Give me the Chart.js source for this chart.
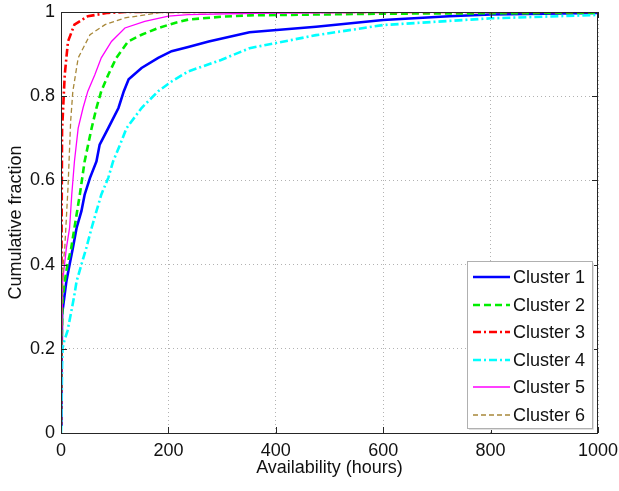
<!DOCTYPE html>
<html>
<head>
<meta charset="utf-8">
<script src="https://cdn.jsdelivr.net/npm/chart.js@4.4.1/dist/chart.umd.min.js"></script>
<style>
    html, body { margin: 0; padding: 0; background: #ffffff; }
    canvas { display: block; }
</style>
</head>
<body>
<canvas id="cdfChart" width="619" height="491"></canvas>
<script>
// Availability CDF per cluster

const xTicks = [0, 200, 400, 600, 800, 1000];
const yTicks = [0, 0.2, 0.4, 0.6, 0.8, 1];

const names = ['Cluster 1', 'Cluster 2', 'Cluster 3', 'Cluster 4', 'Cluster 5', 'Cluster 6'];

const hours1 = [0, 1, 2, 6, 10, 16, 22, 29, 38, 44, 54, 66, 72, 88, 107, 117, 126, 150, 181, 206, 237, 275, 351, 475, 600, 723, 800, 1000];
const frac1 = [0.02, 0.15, 0.281, 0.321, 0.36, 0.4, 0.439, 0.487, 0.527, 0.566, 0.606, 0.645, 0.685, 0.724, 0.772, 0.812, 0.84, 0.867, 0.891, 0.907, 0.917, 0.93, 0.952, 0.965, 0.981, 0.99, 0.994, 0.998];

const hours2 = [0, 1, 3, 7, 12, 19, 25, 35, 44, 57, 66, 75, 88, 103, 125, 150, 181, 212, 237, 300, 351, 600, 800, 1000];
const frac2 = [0.02, 0.2, 0.321, 0.36, 0.4, 0.439, 0.487, 0.566, 0.645, 0.724, 0.772, 0.812, 0.851, 0.891, 0.93, 0.946, 0.962, 0.974, 0.982, 0.989, 0.992, 0.996, 0.997, 0.998];

const hours3 = [0, 0.5, 1, 2, 4, 7, 13, 25, 50, 88, 119, 1000];
const frac3 = [0.02, 0.25, 0.45, 0.72, 0.772, 0.851, 0.93, 0.97, 0.99, 0.998, 1, 1];

const hours4 = [0, 1, 2, 3, 6, 12, 18, 24, 29, 38, 47, 57, 66, 75, 88, 97, 110, 122, 150, 181, 206, 237, 298, 351, 475, 600, 800, 1000];
const frac4 = [0, 0.04, 0.162, 0.202, 0.218, 0.242, 0.281, 0.321, 0.36, 0.4, 0.439, 0.487, 0.527, 0.566, 0.606, 0.645, 0.685, 0.724, 0.772, 0.812, 0.835, 0.859, 0.886, 0.914, 0.945, 0.969, 0.985, 0.993];

const hours5 = [0, 1, 3, 10, 16, 20, 25, 32, 41, 50, 63, 75, 94, 119, 156, 200, 237, 360, 600, 1000];
const frac5 = [0.02, 0.2, 0.36, 0.439, 0.487, 0.566, 0.645, 0.724, 0.772, 0.812, 0.851, 0.891, 0.93, 0.962, 0.978, 0.99, 0.994, 0.997, 0.999, 1];

const hours6 = [0, 1, 4, 7, 13, 18, 22, 32, 54, 82, 119, 181, 200, 1000];
const frac6 = [0.02, 0.25, 0.4, 0.439, 0.582, 0.741, 0.811, 0.891, 0.946, 0.97, 0.986, 0.998, 1, 1];

const allHours = [hours1, hours2, hours3, hours4, hours5, hours6];
const allFrac = [frac1, frac2, frac3, frac4, frac5, frac6];

// matlab-ish line styles
const colors = ['#0000ff', '#00ee00', '#ff0000', '#00ffff', '#ff00ff', '#a8883a'];
const widths = [2.6, 2.6, 2.6, 2.6, 1.3, 1.3];
const dashes = [[], [7, 4], [8, 3, 2, 3], [8, 3, 2, 3], [], [5, 3]];

const FONT = '"Liberation Sans", Arial, Helvetica, sans-serif';

const datasets = names.map((name, i) => ({
    label: name,
    data: allHours[i].map((h, k) => ({ x: h, y: allFrac[i][k] })),
    borderColor: colors[i],
    borderWidth: widths[i],
    borderDash: dashes[i],
    pointRadius: 0,
    fill: false,
    tension: 0,
    order: names.length - i
}));

// frame, inward ticks and the legend box inside the axes
const matlabAxes = {
    id: 'matlabAxes',
    afterDraw(chart) {
        const ctx = chart.ctx;
        const area = chart.chartArea;
        const xs = chart.scales.x;
        const ys = chart.scales.y;
        ctx.save();

        ctx.strokeStyle = '#262626';
        ctx.lineWidth = 1;
        ctx.setLineDash([]);
        ctx.strokeRect(area.left + 0.5, area.top + 0.5, area.right - area.left - 1, area.bottom - area.top);

        ctx.beginPath();
        xTicks.forEach(t => {
            const px = Math.round(xs.getPixelForValue(t)) + 0.5;
            ctx.moveTo(px, area.bottom);
            ctx.lineTo(px, area.bottom - 6);
            ctx.moveTo(px, area.top);
            ctx.lineTo(px, area.top + 6);
        });
        yTicks.forEach(t => {
            const py = Math.round(ys.getPixelForValue(t)) + 0.5;
            ctx.moveTo(area.left, py);
            ctx.lineTo(area.left + 6, py);
            ctx.moveTo(area.right, py);
            ctx.lineTo(area.right - 6, py);
        });
        ctx.stroke();

        // legend
        const box = { left: 467, top: 261, right: 592, bottom: 428 };
        ctx.fillStyle = '#ffffff';
        ctx.fillRect(box.left, box.top, box.right - box.left, box.bottom - box.top);
        ctx.strokeStyle = '#b0b0b0';
        ctx.strokeRect(box.left + 0.5, box.top + 0.5, box.right - box.left, box.bottom - box.top);
        ctx.strokeStyle = '#e0e0e0';
        ctx.beginPath();
        ctx.moveTo(box.right + 1.5, box.top + 2);
        ctx.lineTo(box.right + 1.5, box.bottom + 1.5);
        ctx.lineTo(box.left + 2, box.bottom + 1.5);
        ctx.stroke();

        ctx.font = '18px ' + FONT;
        ctx.textBaseline = 'middle';
        ctx.textAlign = 'left';
        names.forEach((name, i) => {
            const cy = Math.round(277 + i * 27.6);
            ctx.beginPath();
            ctx.strokeStyle = colors[i];
            ctx.lineWidth = Math.max(widths[i], 1.6);
            ctx.setLineDash(dashes[i]);
            ctx.moveTo(473, cy);
            ctx.lineTo(510, cy);
            ctx.stroke();
            ctx.setLineDash([]);
            ctx.fillStyle = '#111111';
            ctx.fillText(name, 513, cy + 1);
        });

        ctx.restore();
    }
};

const cdfCtx = document.getElementById('cdfChart');
new Chart(cdfCtx, {
    type: 'line',
    data: { datasets: datasets },
    options: {
        responsive: false,
        animation: false,
        devicePixelRatio: 1,
        layout: { padding: { top: 12, right: 21, left: 0, bottom: 0 } },
        plugins: {
            legend: { display: false },
            tooltip: { enabled: false }
        },
        scales: {
            x: {
                type: 'linear',
                min: 0,
                max: 1000,
                afterFit: (scale) => {
                    scale.height = 58;
                    scale.paddingLeft = 0;
                    scale.paddingRight = 0;
                },
                afterBuildTicks: (scale) => { scale.ticks = xTicks.map(v => ({ value: v })); },
                ticks: {
                    color: '#111111',
                    padding: 7,
                    maxRotation: 0,
                    font: { family: FONT, size: 18 },
                    callback: (v) => String(v)
                },
                grid: { color: 'rgba(0,0,0,0.3)', lineWidth: 1, drawTicks: false },
                border: { display: false, dash: [1, 3] },
                title: {
                    display: true,
                    text: 'Availability (hours)',
                    color: '#111111',
                    padding: { top: 0, bottom: 12 },
                    font: { family: FONT, size: 18 }
                }
            },
            y: {
                type: 'linear',
                min: 0,
                max: 1,
                afterFit: (scale) => {
                    scale.width = 61;
                    scale.paddingTop = 0;
                    scale.paddingBottom = 0;
                },
                afterBuildTicks: (scale) => { scale.ticks = yTicks.map(v => ({ value: v })); },
                ticks: {
                    color: '#111111',
                    padding: 6,
                    font: { family: FONT, size: 18 },
                    callback: (v) => String(+v.toFixed(1))
                },
                grid: { color: 'rgba(0,0,0,0.3)', lineWidth: 1, drawTicks: false },
                border: { display: false, dash: [1, 3] },
                title: {
                    display: true,
                    text: 'Cumulative fraction',
                    color: '#111111',
                    padding: { top: 5, bottom: 0 },
                    font: { family: FONT, size: 18 }
                }
            }
        }
    },
    plugins: [matlabAxes]
});
</script>
</body>
</html>
